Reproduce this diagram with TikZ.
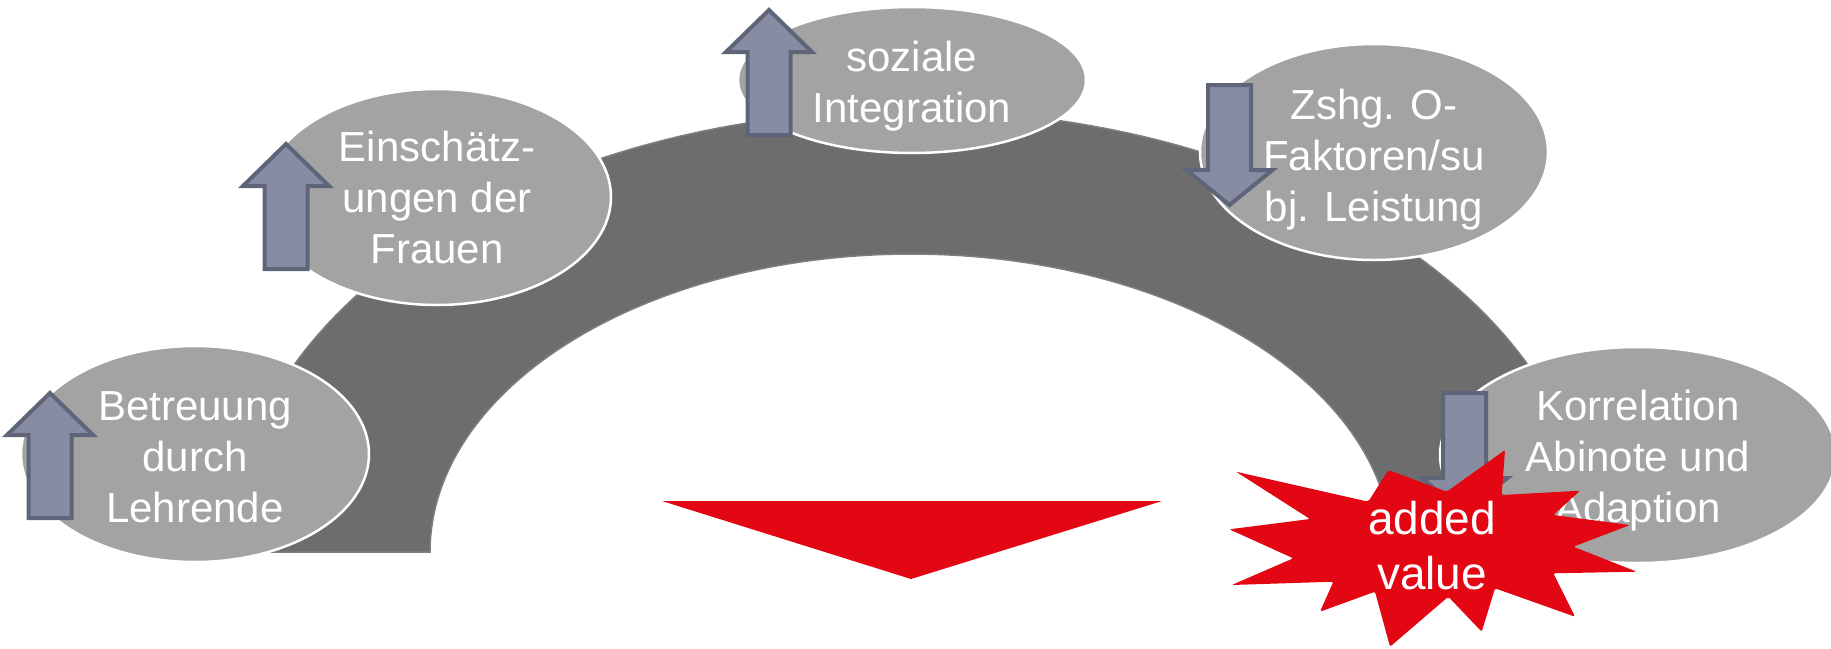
\documentclass[tikz,border=0pt]{standalone}
\usepackage{fontspec}
\setmainfont{Liberation Sans}
\usetikzlibrary{shapes.geometric}
\definecolor{bandgray}{HTML}{6D6D6D}
\definecolor{bandedge}{HTML}{7E7E7E}
\definecolor{bubblegray}{HTML}{A3A3A3}
\definecolor{arrowfill}{HTML}{878CA2}
\definecolor{arrowline}{HTML}{5F6579}
\definecolor{starred}{HTML}{E30613}
\tikzset{
  band/.style={fill=bandgray, draw=bandedge, line width=1.5pt},
  bubble/.style={ellipse, fill=bubblegray, draw=white, line width=2.5pt, inner sep=0pt,
    minimum width=348pt, minimum height=216pt},
  bubbletext/.style={text=white, align=center, inner sep=0pt, font=\fontsize{42}{51}\selectfont},
  blockarrow/.style={fill=arrowfill, draw=arrowline, line width=4pt, line join=miter},
  redshape/.style={fill=starred, draw=none},
  startext/.style={text=white, align=center, font=\fontsize{46}{55}\selectfont, inner sep=0pt}
}
\newcommand\blkup[2]{\draw[blockarrow] (#1,#2) -- ++(43,42) -- ++(-21.5,0) -- ++(0,83) -- ++(-43,0) -- ++(0,-83) -- ++(-21.5,0) -- cycle;}
\newcommand\blkdown[2]{\draw[blockarrow] (#1,#2) -- ++(43,0) -- ++(0,85) -- ++(21.5,0) -- ++(-43,35) -- ++(-43,-35) -- ++(21.5,0) -- cycle;}
\begin{document}
\begin{tikzpicture}[x=1pt, y=-1pt]
\useasboundingbox (0,0) rectangle (1831,648);
% gray arch band
\draw[band] plot[domain=180:0, samples=160] ({911+681*cos(\x)},{552-442*sin(\x)})
  -- plot[domain=0:180, samples=160] ({911+481*cos(\x)},{552-298*sin(\x)})
  -- cycle;
% red triangle
\fill[redshape] (662,501) -- (1162,501) -- (911,579) -- cycle;
% ellipses
\node[bubble] (e1) at (195,454) {};
\node[bubble] (e2) at (437,197) {};
\node[bubble, minimum height=146pt] (e3) at (912,80) {};
\node[bubble] (e4) at (1374,152) {};
\node[bubble, minimum width=396pt] (e5) at (1638,455) {};
\node[bubbletext] (t1) at ([yshift=-3pt]e1.center) {Betreuung\\durch\\Lehrende};
\node[bubbletext] (t2) at (e2.center) {Einsch\"atz-\\ungen der\\Frauen};
\node[bubbletext] (t3) at ([yshift=-6pt]e3.center) {soziale\\Integration};
\node[bubbletext] (t4) at ([yshift=-8pt]e4.center) {Zshg. O-\\Faktoren/su\\bj. Leistung};
\node[bubbletext] (t5) at ([yshift=-6pt]e5.center) {Korrelation\\Abinote und\\Adaption};
% block arrows
\blkup{50}{393}
\blkup{286}{144}
\blkup{769}{10}
\blkdown{1208}{85}
\blkdown{1443}{393}
% star
\fill[redshape, rounded corners=2pt] (1236,471.7) -- (1368.3,501.7) -- (1388.3,470) -- (1446.7,491.7) -- (1505,450) -- (1501.7,495) -- (1580,490.7) -- (1553.3,515) -- (1630,525) -- (1573.3,546.7) -- (1636.7,571.7) -- (1553.3,573.3) -- (1575,616.7) -- (1495,588.3) -- (1481.7,631.7) -- (1448.3,596.7) -- (1390,646.7) -- (1375,591.7) -- (1320,611.7) -- (1333.3,581.7) -- (1231.7,585) -- (1293.3,558.3) -- (1229.3,529.3) -- (1310,519) -- cycle;
\node[startext] (av) at (1432,546) {added\\value};
\end{tikzpicture}
\end{document}
